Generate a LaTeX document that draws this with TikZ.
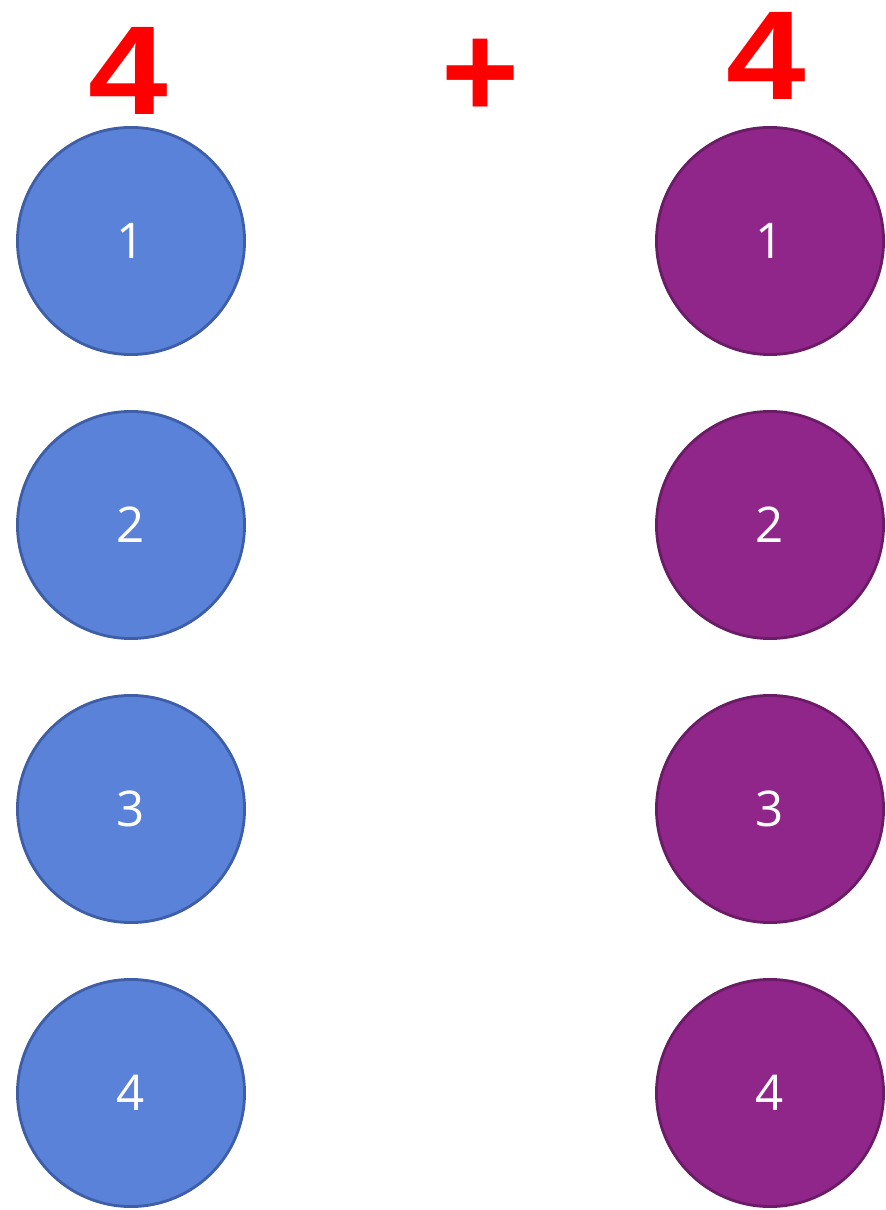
\documentclass[tikz,border=0pt]{standalone}
\usepackage{fontspec}
\setmainfont{Liberation Sans}
\newfontfamily\dotfont{Open Sans}
\definecolor{dotblue}{RGB}{90,130,216}
\definecolor{dotblueline}{RGB}{62,94,168}
\definecolor{dotpurple}{RGB}{144,38,138}
\definecolor{dotpurpleline}{RGB}{106,28,102}

\begin{document}
\begin{tikzpicture}[x=0.01cm,y=-0.01cm,
  bluedot/.style={circle,fill=dotblue,draw=dotblueline,line width=0.8pt,
    minimum size=2.27cm,inner sep=0pt,text=white,font=\dotfont\fontsize{14}{16}\selectfont},
  purpledot/.style={bluedot,fill=dotpurple,draw=dotpurpleline},
  bignum/.style={text=red,inner sep=0pt,font=\bfseries\fontsize{36}{40}\selectfont},
  bigsign/.style={bignum,font=\bfseries\fontsize{38}{42}\selectfont}]
  \useasboundingbox (0,0) rectangle (885,1210);
  \node[bignum] (lcount) at (128,71) {\scalebox{1.13}[1]{4}};
  \node[bigsign] (plus) at (481,78) {+};
  \node[bignum] (rcount) at (766,56) {\scalebox{1.13}[1]{4}};
  \foreach \i in {1,...,4} {
    \node[bluedot] (l\i) at (131,{241+284*(\i-1)}) {\i};
    \node[purpledot] (r\i) at (770,{241+284*(\i-1)}) {\i};
  }
\end{tikzpicture}
\end{document}
